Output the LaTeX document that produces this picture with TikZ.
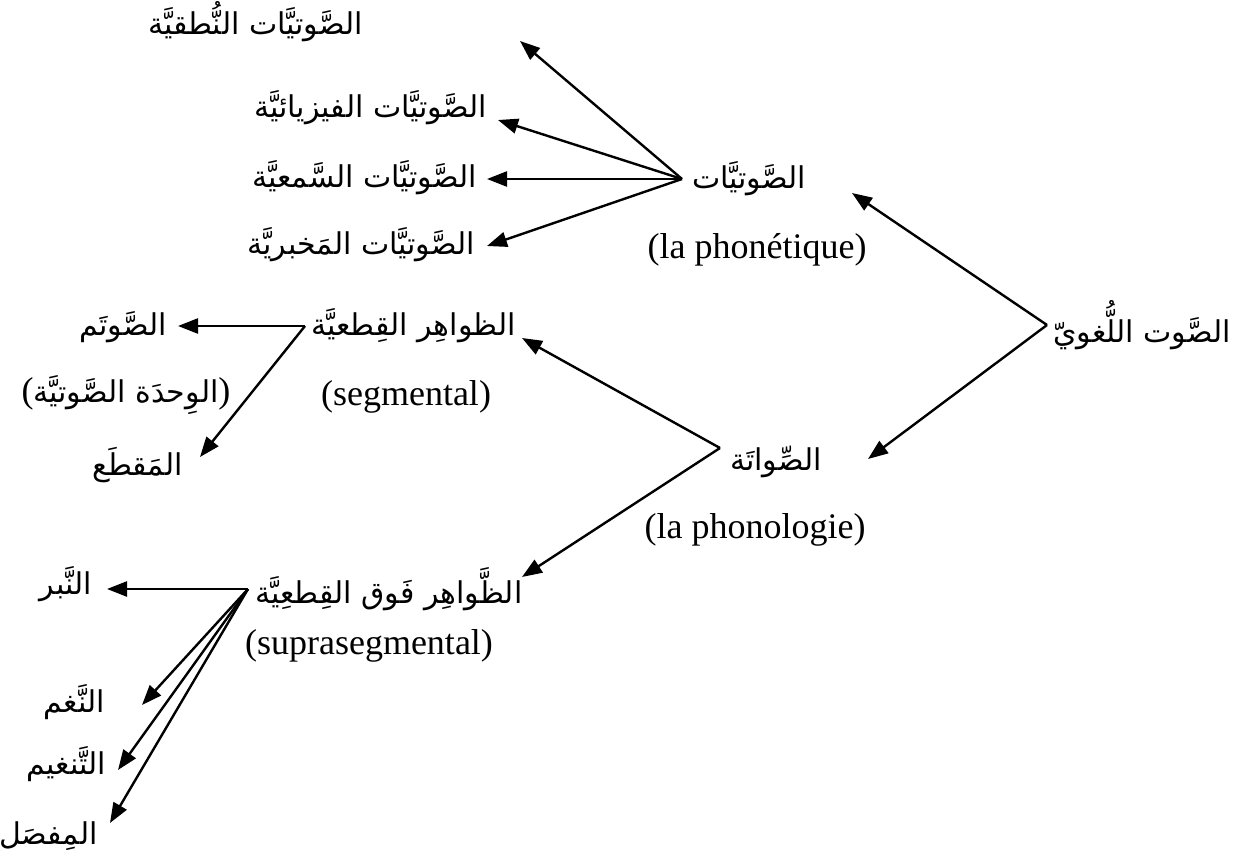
\documentclass[tikz,border=0pt]{standalone}
\usepackage{fontspec}
\setmainfont{Liberation Serif}
\newfontfamily\arfont[Script=Arabic]{DejaVu Sans}
\TeXXeTstate=1
\usetikzlibrary{arrows.meta}
\newcommand{\AR}[1]{{\arfont\beginR #1\endR}}
\begin{document}
\begin{tikzpicture}[x=1pt,y=-1pt,
  ar/.style={font=\fontsize{30}{34}\selectfont, inner sep=0pt},
  la/.style={font=\fontsize{36}{40}\selectfont, inner sep=0pt},
  con/.style={line width=2.4pt, -{Triangle[length=20pt,width=15pt]}},
  ]
\fill[white] (0,0) rectangle (1254,867);
\path[use as bounding box] (0,0) rectangle (1254,867);

% phonetics branch
\node[ar, anchor=west, outer xsep=10pt] (ph) at (682,179) {\AR{الصَّوتيَّات}};
\node[la] (phL) at (757,250) {(la phonétique)};
\node[ar, anchor=east] (n1) at (363,22) {\AR{الصَّوتيَّات النُّطقيَّة}};
\node[ar, anchor=east] (n2) at (487,108) {\AR{الصَّوتيَّات الفيزيائيَّة}};
\node[ar, anchor=east] (n3) at (477,178) {\AR{الصَّوتيَّات السَّمعيَّة}};
\node[ar, anchor=east] (n4) at (475,245) {\AR{الصَّوتيَّات المَخبريَّة}};
\coordinate (t1) at (520,41);
\coordinate (t2) at (498,120);
\coordinate (t3) at (487,179);
\coordinate (t4) at (487,246);
\draw[con] (ph.west) -- (t1);
\draw[con] (ph.west) -- (t2);
\draw[con] (ph.west) -- (t3);
\draw[con] (ph.west) -- (t4);

% root
\node[ar, anchor=west, outer xsep=6pt] (root) at (1047,325) {\AR{الصَّوت اللُّغويّ}};
\coordinate (tph) at (852,193);
\coordinate (tpl) at (868,459);
\draw[con] (root.west) -- (tph);
\draw[con] (root.west) -- (tpl);

% phonology branch
\coordinate (plA) at (720,448);
\node[ar, anchor=west] (pl) at (730,462) {\AR{الصِّواتَة}};
\node[la] (plL) at (755,530) {(la phonologie)};
\coordinate (tseg) at (522,338);
\coordinate (tsup) at (522,577);
\draw[con] (plA) -- (tseg);
\draw[con] (plA) -- (tsup);

% segmental
\node[ar, anchor=west, outer xsep=6pt] (seg) at (305,326) {\AR{الظواهِر القِطعيَّة}};
\node[la] (segL) at (406,397) {(segmental)};
\node[ar, anchor=east] (sawtam) at (167,327) {\AR{الصَّوتَم}};
\node[la] (wahda) at (126,395) {({\fontsize{30}{34}\selectfont\AR{الوِحدَة الصَّوتيَّة}})};
\node[ar, anchor=east] (maqta) at (183,465) {\AR{المَقطَع}};
\coordinate (tsaw) at (178,326);
\coordinate (tmaq) at (200,457);
\draw[con] (seg.west) -- (tsaw);
\draw[con] (seg.west) -- (tmaq);

% suprasegmental
\node[ar, anchor=west, outer xsep=7pt] (sup) at (248,589) {\AR{الظَّواهِر فَوق القِطعِيَّة}};
\node[la] (supL) at (369,646) {(suprasegmental)};
\node[ar, anchor=east] (nabr) at (92,584) {\AR{النَّبر}};
\node[ar, anchor=east] (nagham) at (105,702) {\AR{النَّغم}};
\node[ar, anchor=east] (tanghim) at (106,764) {\AR{التَّنغيم}};
\node[ar, anchor=east] (mifsal) at (98,836) {\AR{المِفصَل}};
\coordinate (tnab) at (107,589);
\coordinate (tnag) at (142,705);
\coordinate (ttan) at (118,770);
\coordinate (tmif) at (110,823);
\draw[con] (sup.west) -- (tnab);
\draw[con] (sup.west) -- (tnag);
\draw[con] (sup.west) -- (ttan);
\draw[con] (sup.west) -- (tmif);
\end{tikzpicture}
\end{document}
